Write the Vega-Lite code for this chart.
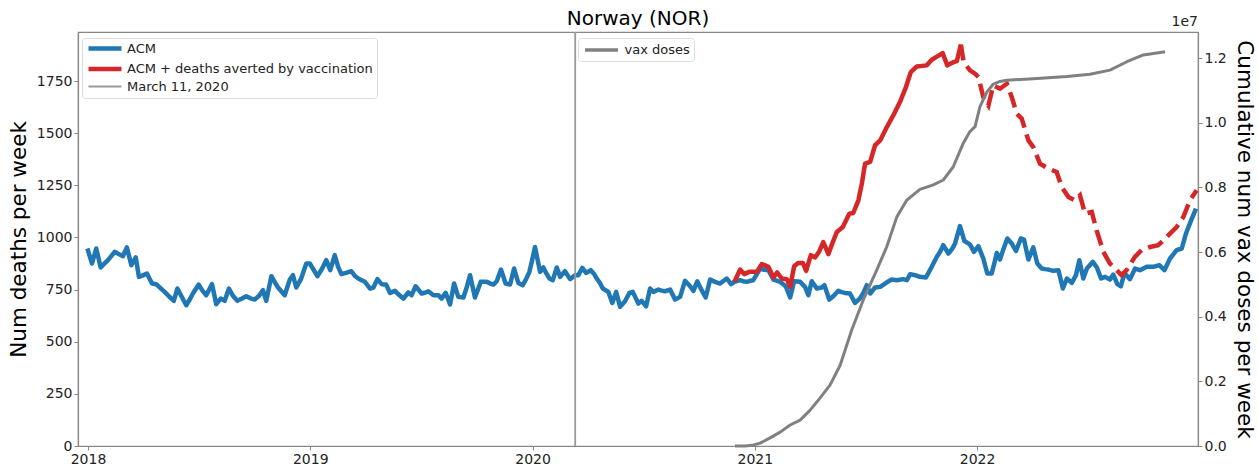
{
  "$schema": "https://vega.github.io/schema/vega-lite/v6.json",
  "width": 1120,
  "height": 414,
  "autosize": {"type": "none"},
  "padding": {"left": 78, "top": 32, "right": 60, "bottom": 22},
  "background": "white",
  "title": {"text": "Norway (NOR)", "fontSize": 20, "font": "DejaVu Sans", "fontWeight": "normal", "color": "#000", "offset": 4, "dy": 18},
  "config": {
    "font": "DejaVu Sans",
    "view": {"stroke": "#888", "strokeWidth": 1.2},
    "axis": {"grid": false, "labelFontSize": 14, "labelColor": "#222", "titleFontSize": 21.5, "titleFontWeight": "normal", "titleColor": "#000", "tickColor": "#888", "domainColor": "#888", "tickSize": 4, "labelPadding": 2, "domainWidth": 1.2}
  },
  "datasets": {
    "acm": [
      {"t":2017.997,"v":947},{"t":2018.018,"v":875},{"t":2018.037,"v":947},{"t":2018.057,"v":856},{"t":2018.074,"v":875},{"t":2018.090,"v":891},{"t":2018.120,"v":931},{"t":2018.139,"v":920},{"t":2018.157,"v":910},{"t":2018.175,"v":952},{"t":2018.195,"v":867},{"t":2018.215,"v":904},{"t":2018.229,"v":811},{"t":2018.247,"v":818},{"t":2018.265,"v":827},{"t":2018.288,"v":779},{"t":2018.307,"v":776},{"t":2018.326,"v":757},{"t":2018.345,"v":739},{"t":2018.364,"v":718},{"t":2018.386,"v":696},{"t":2018.402,"v":755},{"t":2018.423,"v":713},{"t":2018.442,"v":675},{"t":2018.459,"v":705},{"t":2018.472,"v":731},{"t":2018.498,"v":774},{"t":2018.515,"v":745},{"t":2018.532,"v":723},{"t":2018.558,"v":776},{"t":2018.577,"v":680},{"t":2018.597,"v":707},{"t":2018.615,"v":696},{"t":2018.634,"v":755},{"t":2018.652,"v":720},{"t":2018.672,"v":696},{"t":2018.693,"v":707},{"t":2018.712,"v":718},{"t":2018.731,"v":708},{"t":2018.750,"v":702},{"t":2018.769,"v":720},{"t":2018.787,"v":747},{"t":2018.802,"v":696},{"t":2018.825,"v":814},{"t":2018.841,"v":785},{"t":2018.855,"v":760},{"t":2018.885,"v":723},{"t":2018.908,"v":798},{"t":2018.922,"v":819},{"t":2018.937,"v":760},{"t":2018.958,"v":800},{"t":2018.982,"v":875},{"t":2018.998,"v":875},{"t":2019.015,"v":845},{"t":2019.032,"v":814},{"t":2019.053,"v":850},{"t":2019.072,"v":891},{"t":2019.090,"v":843},{"t":2019.110,"v":915},{"t":2019.125,"v":860},{"t":2019.140,"v":824},{"t":2019.161,"v":830},{"t":2019.185,"v":838},{"t":2019.201,"v":815},{"t":2019.216,"v":803},{"t":2019.231,"v":795},{"t":2019.246,"v":787},{"t":2019.269,"v":755},{"t":2019.284,"v":760},{"t":2019.302,"v":800},{"t":2019.321,"v":776},{"t":2019.341,"v":774},{"t":2019.359,"v":734},{"t":2019.381,"v":744},{"t":2019.399,"v":725},{"t":2019.419,"v":707},{"t":2019.441,"v":736},{"t":2019.456,"v":723},{"t":2019.474,"v":766},{"t":2019.501,"v":731},{"t":2019.516,"v":735},{"t":2019.531,"v":742},{"t":2019.554,"v":723},{"t":2019.576,"v":723},{"t":2019.591,"v":707},{"t":2019.609,"v":734},{"t":2019.629,"v":679},{"t":2019.647,"v":779},{"t":2019.666,"v":715},{"t":2019.689,"v":712},{"t":2019.705,"v":765},{"t":2019.719,"v":819},{"t":2019.741,"v":712},{"t":2019.767,"v":787},{"t":2019.794,"v":787},{"t":2019.809,"v":780},{"t":2019.824,"v":774},{"t":2019.839,"v":790},{"t":2019.858,"v":846},{"t":2019.879,"v":779},{"t":2019.899,"v":774},{"t":2019.917,"v":851},{"t":2019.936,"v":782},{"t":2019.956,"v":771},{"t":2019.971,"v":800},{"t":2019.986,"v":835},{"t":2019.998,"v":890},{"t":2020.011,"v":954},{"t":2020.034,"v":835},{"t":2020.049,"v":856},{"t":2020.061,"v":830},{"t":2020.076,"v":803},{"t":2020.091,"v":795},{"t":2020.109,"v":856},{"t":2020.124,"v":811},{"t":2020.146,"v":838},{"t":2020.169,"v":800},{"t":2020.191,"v":819},{"t":2020.206,"v":819},{"t":2020.224,"v":854},{"t":2020.241,"v":830},{"t":2020.262,"v":843},{"t":2020.277,"v":825},{"t":2020.289,"v":803},{"t":2020.304,"v":780},{"t":2020.316,"v":755},{"t":2020.341,"v":739},{"t":2020.359,"v":686},{"t":2020.376,"v":739},{"t":2020.394,"v":667},{"t":2020.416,"v":694},{"t":2020.436,"v":734},{"t":2020.451,"v":739},{"t":2020.476,"v":683},{"t":2020.491,"v":696},{"t":2020.511,"v":670},{"t":2020.529,"v":755},{"t":2020.544,"v":739},{"t":2020.566,"v":750},{"t":2020.581,"v":745},{"t":2020.596,"v":742},{"t":2020.619,"v":750},{"t":2020.641,"v":702},{"t":2020.664,"v":715},{"t":2020.686,"v":792},{"t":2020.709,"v":766},{"t":2020.724,"v":744},{"t":2020.741,"v":790},{"t":2020.761,"v":747},{"t":2020.779,"v":712},{"t":2020.799,"v":798},{"t":2020.821,"v":787},{"t":2020.844,"v":779},{"t":2020.857,"v":790},{"t":2020.874,"v":803},{"t":2020.893,"v":776},{"t":2020.908,"v":787},{"t":2020.934,"v":795},{"t":2020.947,"v":790},{"t":2020.964,"v":787},{"t":2020.979,"v":792},{"t":2020.993,"v":795},{"t":2021.010,"v":825},{"t":2021.024,"v":851},{"t":2021.042,"v":845},{"t":2021.061,"v":843},{"t":2021.084,"v":798},{"t":2021.098,"v":793},{"t":2021.114,"v":787},{"t":2021.139,"v":766},{"t":2021.159,"v":712},{"t":2021.177,"v":790},{"t":2021.204,"v":787},{"t":2021.226,"v":763},{"t":2021.241,"v":723},{"t":2021.256,"v":790},{"t":2021.279,"v":755},{"t":2021.301,"v":760},{"t":2021.313,"v":771},{"t":2021.335,"v":702},{"t":2021.353,"v":718},{"t":2021.376,"v":744},{"t":2021.390,"v":738},{"t":2021.406,"v":734},{"t":2021.428,"v":731},{"t":2021.451,"v":686},{"t":2021.473,"v":707},{"t":2021.489,"v":735},{"t":2021.504,"v":771},{"t":2021.519,"v":731},{"t":2021.541,"v":760},{"t":2021.564,"v":763},{"t":2021.586,"v":779},{"t":2021.602,"v":790},{"t":2021.616,"v":798},{"t":2021.639,"v":795},{"t":2021.666,"v":800},{"t":2021.684,"v":795},{"t":2021.699,"v":824},{"t":2021.721,"v":819},{"t":2021.743,"v":811},{"t":2021.770,"v":808},{"t":2021.796,"v":859},{"t":2021.819,"v":907},{"t":2021.833,"v":930},{"t":2021.848,"v":963},{"t":2021.871,"v":923},{"t":2021.888,"v":945},{"t":2021.901,"v":971},{"t":2021.923,"v":1054},{"t":2021.943,"v":983},{"t":2021.968,"v":967},{"t":2021.986,"v":931},{"t":2022.006,"v":958},{"t":2022.028,"v":899},{"t":2022.046,"v":827},{"t":2022.066,"v":827},{"t":2022.089,"v":926},{"t":2022.103,"v":894},{"t":2022.119,"v":945},{"t":2022.136,"v":995},{"t":2022.156,"v":971},{"t":2022.175,"v":935},{"t":2022.197,"v":995},{"t":2022.211,"v":990},{"t":2022.231,"v":894},{"t":2022.253,"v":952},{"t":2022.271,"v":875},{"t":2022.291,"v":851},{"t":2022.306,"v":848},{"t":2022.321,"v":846},{"t":2022.343,"v":840},{"t":2022.366,"v":843},{"t":2022.386,"v":755},{"t":2022.404,"v":803},{"t":2022.426,"v":782},{"t":2022.445,"v":819},{"t":2022.460,"v":891},{"t":2022.478,"v":803},{"t":2022.494,"v":851},{"t":2022.521,"v":883},{"t":2022.539,"v":856},{"t":2022.558,"v":803},{"t":2022.576,"v":811},{"t":2022.598,"v":798},{"t":2022.613,"v":822},{"t":2022.631,"v":776},{"t":2022.647,"v":766},{"t":2022.663,"v":830},{"t":2022.688,"v":800},{"t":2022.711,"v":851},{"t":2022.733,"v":843},{"t":2022.763,"v":859},{"t":2022.793,"v":859},{"t":2022.820,"v":867},{"t":2022.843,"v":843},{"t":2022.868,"v":899},{"t":2022.898,"v":939},{"t":2022.921,"v":947},{"t":2022.940,"v":1019},{"t":2022.963,"v":1082},{"t":2022.985,"v":1138}
    ],
    "avertedSolid": [
      {"t":2020.908,"v":787},{"t":2020.934,"v":846},{"t":2020.952,"v":824},{"t":2020.975,"v":835},{"t":2021.009,"v":835},{"t":2021.031,"v":872},{"t":2021.046,"v":866},{"t":2021.061,"v":859},{"t":2021.084,"v":808},{"t":2021.101,"v":832},{"t":2021.121,"v":803},{"t":2021.144,"v":800},{"t":2021.159,"v":763},{"t":2021.177,"v":862},{"t":2021.196,"v":878},{"t":2021.216,"v":878},{"t":2021.231,"v":840},{"t":2021.252,"v":915},{"t":2021.271,"v":904},{"t":2021.289,"v":931},{"t":2021.308,"v":978},{"t":2021.331,"v":920},{"t":2021.350,"v":975},{"t":2021.369,"v":1026},{"t":2021.396,"v":1050},{"t":2021.425,"v":1114},{"t":2021.443,"v":1117},{"t":2021.466,"v":1178},{"t":2021.482,"v":1260},{"t":2021.496,"v":1354},{"t":2021.519,"v":1362},{"t":2021.541,"v":1442},{"t":2021.564,"v":1465},{"t":2021.594,"v":1529},{"t":2021.623,"v":1585},{"t":2021.653,"v":1649},{"t":2021.680,"v":1721},{"t":2021.702,"v":1793},{"t":2021.729,"v":1820},{"t":2021.773,"v":1825},{"t":2021.796,"v":1852},{"t":2021.821,"v":1868},{"t":2021.845,"v":1884},{"t":2021.866,"v":1825},{"t":2021.893,"v":1840},{"t":2021.909,"v":1845},{"t":2021.927,"v":1925}
    ],
    "avertedDashed": [
      {"t":2021.927,"v":1925},{"t":2021.940,"v":1840},{"t":2021.968,"v":1801},{"t":2021.991,"v":1785},{"t":2022.006,"v":1769},{"t":2022.028,"v":1673},{"t":2022.051,"v":1633},{"t":2022.073,"v":1729},{"t":2022.103,"v":1713},{"t":2022.134,"v":1737},{"t":2022.156,"v":1673},{"t":2022.179,"v":1593},{"t":2022.201,"v":1569},{"t":2022.231,"v":1465},{"t":2022.253,"v":1433},{"t":2022.283,"v":1354},{"t":2022.321,"v":1330},{"t":2022.358,"v":1314},{"t":2022.381,"v":1242},{"t":2022.411,"v":1194},{"t":2022.441,"v":1178},{"t":2022.463,"v":1202},{"t":2022.486,"v":1114},{"t":2022.516,"v":1122},{"t":2022.538,"v":1034},{"t":2022.568,"v":931},{"t":2022.598,"v":875},{"t":2022.628,"v":843},{"t":2022.650,"v":819},{"t":2022.673,"v":843},{"t":2022.710,"v":907},{"t":2022.740,"v":939},{"t":2022.778,"v":954},{"t":2022.815,"v":963},{"t":2022.853,"v":1002},{"t":2022.898,"v":1050},{"t":2022.928,"v":1098},{"t":2022.958,"v":1178},{"t":2022.988,"v":1226}
    ],
    "vax": [
      {"t":2020.911,"d":0},{"t":2020.956,"d":0},{"t":2020.988,"d":20000},{"t":2021.024,"d":90000},{"t":2021.069,"d":250000},{"t":2021.114,"d":430000},{"t":2021.159,"d":650000},{"t":2021.204,"d":800000},{"t":2021.249,"d":1110000},{"t":2021.294,"d":1490000},{"t":2021.339,"d":1890000},{"t":2021.384,"d":2500000},{"t":2021.436,"d":3590000},{"t":2021.488,"d":4520000},{"t":2021.549,"d":5450000},{"t":2021.594,"d":6170000},{"t":2021.639,"d":7090000},{"t":2021.684,"d":7610000},{"t":2021.743,"d":7940000},{"t":2021.803,"d":8080000},{"t":2021.848,"d":8230000},{"t":2021.893,"d":8640000},{"t":2021.938,"d":9370000},{"t":2021.968,"d":9730000},{"t":2021.991,"d":9880000},{"t":2022.013,"d":10500000},{"t":2022.044,"d":10950000},{"t":2022.073,"d":11200000},{"t":2022.103,"d":11280000},{"t":2022.134,"d":11320000},{"t":2022.253,"d":11360000},{"t":2022.404,"d":11430000},{"t":2022.508,"d":11500000},{"t":2022.598,"d":11630000},{"t":2022.674,"d":11890000},{"t":2022.748,"d":12100000},{"t":2022.846,"d":12200000}
    ],
    "events": [{"t": 2020.192}]
  },
  "layer": [
    {
      "layer": [
        {
          "data": {"name": "acm"},
          "mark": {"type": "line", "strokeWidth": 4.5, "strokeJoin": "round"},
          "encoding": {
            "x": {"field": "t", "type": "quantitative", "scale": {"domain": [2017.955, 2022.994], "nice": false, "zero": false}, "axis": {"values": [2018, 2019, 2020, 2021, 2022], "format": "d", "title": null}},
            "y": {"field": "v", "type": "quantitative", "scale": {"domain": [0, 1985], "nice": false}, "axis": {"values": [0, 250, 500, 750, 1000, 1250, 1500, 1750], "format": "d", "title": "Num deaths per week", "titlePadding": 6}},
            "color": {"datum": "ACM", "type": "nominal",
              "scale": {"domain": ["ACM", "ACM + deaths averted by vaccination", "March 11, 2020"], "range": ["#1f77b4", "#d62728", "#999999"]},
              "legend": {"title": null, "orient": "none", "legendX": 4, "legendY": 6, "symbolType": "M-2.75,0L2.75,0", "symbolSize": 144, "symbolStrokeWidth": 4.5, "symbolOffset": 12.5, "labelFontSize": 13, "labelColor": "#222", "labelOffset": 15.5, "labelLimit": 400, "rowPadding": 1.5, "padding": 4, "fillColor": "white", "strokeColor": "#dddddd", "cornerRadius": 3,
                "encode": {"symbols": {"update": {"strokeWidth": {"signal": "datum.value === 'March 11, 2020' ? 1.8 : 4.5"}}}}}
            }
          }
        },
        {
          "data": {"name": "avertedSolid"},
          "mark": {"type": "line", "strokeWidth": 4.5, "strokeJoin": "round"},
          "encoding": {
            "x": {"field": "t", "type": "quantitative"},
            "y": {"field": "v", "type": "quantitative"},
            "color": {"datum": "ACM + deaths averted by vaccination", "type": "nominal"}
          }
        },
        {
          "data": {"name": "avertedDashed"},
          "mark": {"type": "line", "strokeWidth": 4.5, "strokeDash": [16, 7]},
          "encoding": {
            "x": {"field": "t", "type": "quantitative"},
            "y": {"field": "v", "type": "quantitative"},
            "color": {"datum": "ACM + deaths averted by vaccination", "type": "nominal"}
          }
        },
        {
          "data": {"name": "events"},
          "mark": {"type": "rule", "strokeWidth": 1.8},
          "encoding": {
            "x": {"field": "t", "type": "quantitative"},
            "color": {"datum": "March 11, 2020", "type": "nominal"}
          }
        }
      ]
    },
    {
      "layer": [
        {
          "data": {"name": "vax"},
          "mark": {"type": "line", "strokeWidth": 3, "strokeJoin": "round"},
          "encoding": {
            "x": {"field": "t", "type": "quantitative"},
            "y": {"field": "d", "type": "quantitative", "scale": {"domain": [0, 12810000], "nice": false}, "axis": {"orient": "right", "values": [0, 2000000, 4000000, 6000000, 8000000, 10000000, 12000000], "labelExpr": "format(datum.value / 10000000, '.1f')", "title": "Cumulative num vax doses per week", "titlePadding": 6}},
            "color": {"datum": "vax doses", "type": "nominal", "scale": {"domain": ["vax doses"], "range": ["#808080"]},
              "legend": {"title": null, "orient": "none", "legendX": 500, "legendY": 6, "symbolType": "M-2.75,0L2.75,0", "symbolSize": 144, "symbolStrokeWidth": 3.5, "symbolOffset": 11.5, "labelFontSize": 13, "labelColor": "#222", "labelOffset": 15, "padding": 4, "fillColor": "white", "strokeColor": "#dddddd", "cornerRadius": 3}}
          }
        },
        {
          "data": {"values": [{}]},
          "mark": {"type": "text", "text": "1e7", "align": "right", "baseline": "bottom", "dy": -3, "fontSize": 14, "color": "#222"},
          "encoding": {
            "x": {"datum": 2022.994, "type": "quantitative"},
            "y": {"datum": 12810000, "type": "quantitative"}
          }
        }
      ]
    }
  ],
  "resolve": {"scale": {"y": "independent", "color": "independent"}, "legend": {"color": "independent"}}
}
